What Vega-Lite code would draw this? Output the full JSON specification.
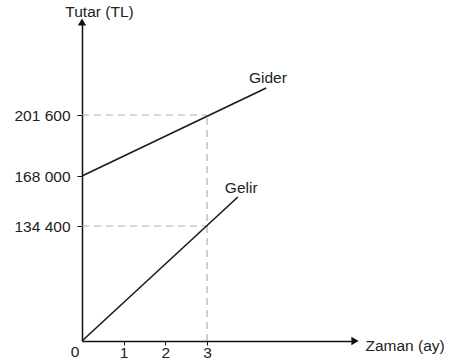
{
  "$schema": "https://vega.github.io/schema/vega-lite/v6.json",
  "width": 273,
  "height": 319,
  "autosize": {"type": "none"},
  "padding": {"left": 82, "top": 22, "right": 98, "bottom": 23},
  "background": "white",
  "config": {
    "view": {"stroke": null},
    "font": "Liberation Sans",
    "axis": {"grid": false, "domainColor": "#111", "domainWidth": 1.5, "tickColor": "#111", "labelColor": "#222", "labelFont": "Liberation Sans", "labelFontSize": 15.5, "titleFont": "Liberation Sans", "titleFontSize": 15.5, "titleFontWeight": "normal", "titleColor": "#222"}
  },
  "datasets": {
    "lines": [
      {"seri": "Gider", "ay": 0, "tutar": 168000},
      {"seri": "Gider", "ay": 4.42, "tutar": 216500},
      {"seri": "Gelir", "ay": 0, "tutar": 0},
      {"seri": "Gelir", "ay": 3.74, "tutar": 153900}
    ],
    "guides": [
      {"ay": 0, "ay2": 3, "tutar": 201600, "tutar2": 201600},
      {"ay": 0, "ay2": 3, "tutar": 134400, "tutar2": 134400},
      {"ay": 3, "ay2": 3, "tutar": 0, "tutar2": 201600}
    ],
    "arrows": [
      {"ay": 0, "tutar": 252800, "shape": "triangle-up"},
      {"ay": 6.55, "tutar": 0, "shape": "triangle-right"}
    ],
    "labels": [
      {"ay": 4.46, "tutar": 222000, "text": "Gider"},
      {"ay": 3.82, "tutar": 159900, "text": "Gelir"}
    ],
    "origin": [{"ay": 0, "tutar": 0, "text": "0"}]
  },
  "layer": [
    {
      "data": {"name": "guides"},
      "mark": {"type": "rule", "color": "#b0b0b0", "strokeWidth": 1.2, "strokeDash": [7, 5]},
      "encoding": {
        "x": {"field": "ay", "type": "quantitative", "scale": {"domain": [0, 6.55], "nice": false, "zero": false},
          "axis": {"values": [1, 2, 3], "tickSize": 4, "labelPadding": 0, "title": "Zaman (ay)", "titleAngle": 0, "titleX": 283, "titleY": 4, "titleAlign": "left", "titleBaseline": "middle"}},
        "x2": {"field": "ay2"},
        "y": {"field": "tutar", "type": "quantitative", "scale": {"domain": [0, 134400, 168000, 201600, 252800], "range": [319, 204, 154, 93, 0], "nice": false, "zero": false},
          "axis": {"values": [134400, 168000, 201600], "tickSize": 5, "labelPadding": 7, "labelExpr": "replace(format(datum.value, ','), ',', ' ')", "title": "Tutar (TL)", "titleAngle": 0, "titleX": 17, "titleY": -11, "titleAlign": "center", "titleBaseline": "middle"}},
        "y2": {"field": "tutar2"}
      }
    },
    {
      "data": {"name": "lines"},
      "mark": {"type": "line", "color": "#1a1a1a", "strokeWidth": 1.6},
      "encoding": {
        "x": {"field": "ay", "type": "quantitative"},
        "y": {"field": "tutar", "type": "quantitative"},
        "detail": {"field": "seri"}
      }
    },
    {
      "data": {"name": "arrows"},
      "mark": {"type": "point", "filled": true, "color": "#111", "size": 70, "opacity": 1},
      "encoding": {
        "x": {"field": "ay", "type": "quantitative"},
        "y": {"field": "tutar", "type": "quantitative"},
        "shape": {"field": "shape", "type": "nominal", "scale": null, "legend": null}
      }
    },
    {
      "data": {"name": "labels"},
      "mark": {"type": "text", "fontSize": 15.5, "color": "#222", "font": "Liberation Sans"},
      "encoding": {
        "x": {"field": "ay", "type": "quantitative"},
        "y": {"field": "tutar", "type": "quantitative"},
        "text": {"field": "text"}
      }
    },
    {
      "data": {"name": "origin"},
      "mark": {"type": "text", "fontSize": 15.5, "color": "#222", "dx": -7, "dy": 11},
      "encoding": {
        "x": {"field": "ay", "type": "quantitative"},
        "y": {"field": "tutar", "type": "quantitative"},
        "text": {"field": "text"}
      }
    }
  ]
}
